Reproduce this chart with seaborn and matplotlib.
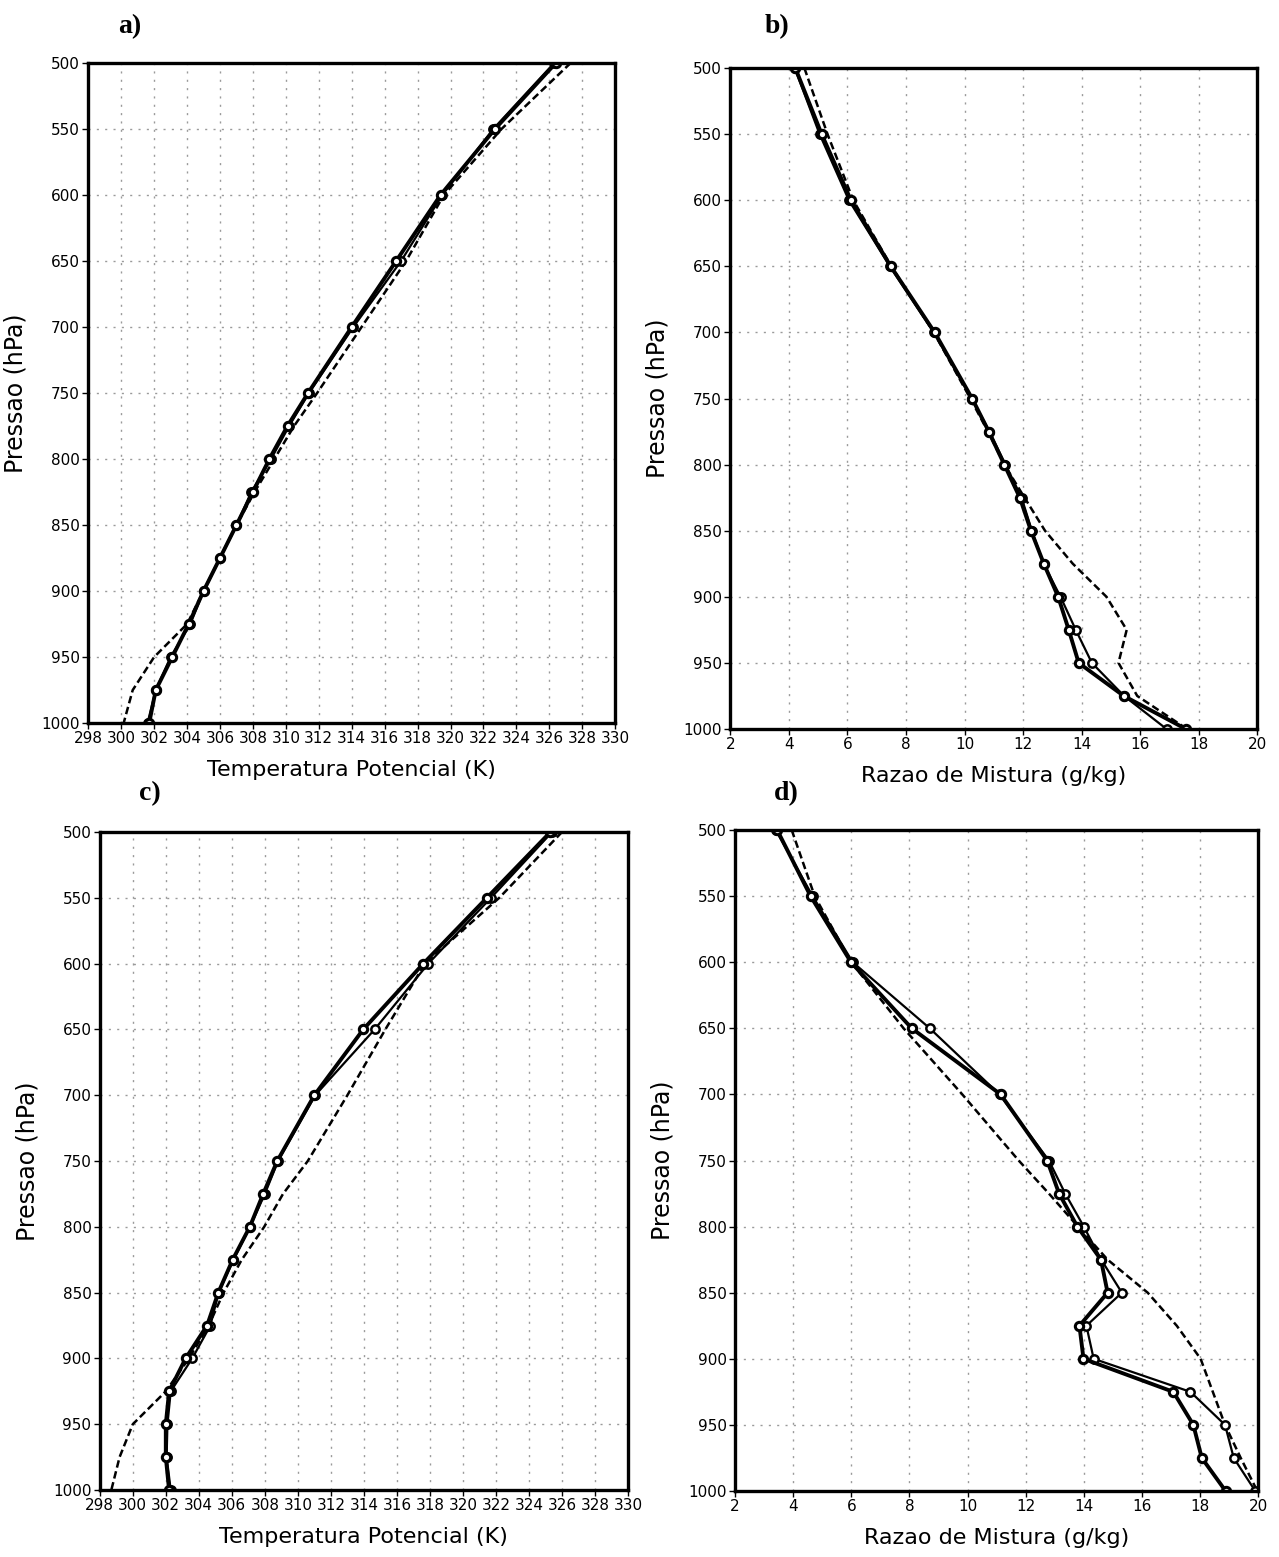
import matplotlib
matplotlib.use("Agg")
import matplotlib.pyplot as plt
import seaborn as sns

# Pressure levels (hPa)
levels = [500, 550, 600, 650, 700, 750, 775, 800, 825, 850, 875, 900, 925, 950, 975, 1000]

# a) potential temperature (K)
theta_a_1 = [326.4, 322.7, 319.4, 316.7, 314.0, 311.35, 310.1, 309.0, 308.0, 307.0, 306.0, 305.0, 304.1, 303.1, 302.1, 301.7]
theta_a_2 = [326.3, 322.6, 319.5, 317.0, 314.1, 311.4, 310.2, 309.1, 307.9, 307.0, 306.0, 305.0, 304.2, 303.0, 302.1, 301.6]
theta_a_3 = [327.3, 323.1, 319.6, 317.3, 314.6, 311.9, 310.5, 309.3, 308.1, 307.0, 306.0, 305.0, 304.0, 302.0, 300.7, 300.15]

# b) mixing ratio (g/kg)
q_b_1 = [4.22, 5.12, 6.12, 7.48, 8.98, 10.26, 10.83, 11.36, 11.89, 12.27, 12.71, 13.2, 13.56, 13.9, 15.44, 17.56]
q_b_2 = [4.2, 5.05, 6.05, 7.45, 8.95, 10.25, 10.85, 11.4, 11.95, 12.3, 12.7, 13.28, 13.8, 14.35, 15.45, 16.9]
q_b_3 = [4.53, 5.32, 6.2, 7.5, 8.95, 10.2, 10.8, 11.36, 12.05, 12.75, 13.7, 14.85, 15.54, 15.26, 15.9, 17.6]

# c) potential temperature (K)
theta_c_1 = [325.3, 321.45, 317.6, 313.96, 311.0, 308.75, 307.9, 307.09, 306.05, 305.18, 304.5, 303.2, 302.2, 302.0, 302.0, 302.2]
theta_c_2 = [325.4, 321.7, 317.9, 314.65, 311.05, 308.8, 308.0, 307.1, 306.1, 305.2, 304.7, 303.6, 302.3, 302.1, 302.05, 302.3]
theta_c_3 = [326.0, 322.2, 317.7, 315.3, 313.0, 310.6, 309.1, 307.96, 306.6, 305.5, 304.6, 303.4, 302.0, 300.0, 299.2, 298.7]

# d) mixing ratio (g/kg)
q_d_1 = [3.45, 4.6, 5.99, 8.08, 11.14, 12.74, 13.15, 13.78, 14.59, 14.82, 13.85, 13.99, 17.08, 17.77, 18.06, 18.88]
q_d_2 = [3.4, 4.67, 6.05, 8.7, 11.1, 12.8, 13.36, 14.0, 14.6, 15.31, 14.09, 14.34, 17.67, 18.86, 19.16, 19.9]
q_d_3 = [3.95, 4.74, 6.0, 7.8, 9.82, 11.76, 12.8, 13.8, 14.82, 16.2, 17.2, 18.02, 18.44, 18.86, 19.4, 19.97]

theta_ticks = list(range(298, 331, 2))
q_ticks = list(range(2, 21, 2))
p_ticks = list(range(500, 1001, 50))

sns.set_style("white")
plt.rcParams["font.family"] = ["DejaVu Sans"]
plt.rcParams["text.color"] = "black"
plt.rcParams["axes.labelcolor"] = "black"
plt.rcParams["xtick.color"] = "black"
plt.rcParams["ytick.color"] = "black"

fig = plt.figure(figsize=(12.79, 15.57), dpi=100)

panels = [
    ("a)", [0.069, 0.5356, 0.412, 0.424], (theta_a_1, theta_a_2, theta_a_3), theta_ticks,
     "Temperatura Potencial (K)", (0.092, 0.983)),
    ("b)", [0.571, 0.5318, 0.412, 0.4245], (q_b_1, q_b_2, q_b_3), q_ticks,
     "Razao de Mistura (g/kg)", (0.598, 0.983)),
    ("c)", [0.078, 0.0430, 0.413, 0.4226], (theta_c_1, theta_c_2, theta_c_3), theta_ticks,
     "Temperatura Potencial (K)", (0.109, 0.490)),
    ("d)", [0.5747, 0.0424, 0.409, 0.4245], (q_d_1, q_d_2, q_d_3), q_ticks,
     "Razao de Mistura (g/kg)", (0.605, 0.490)),
]

tick_font = ["Liberation Sans Narrow", "DejaVu Sans"]

for label, rect, (s1, s2, s3), xticks, xlabel, lab_pos in panels:
    ax = fig.add_axes(rect)
    # dashed profile without markers
    sns.lineplot(x=s3, y=levels, sort=False, estimator=None, ax=ax,
                 color="black", linewidth=1.8, linestyle=(0, (3, 1.5)))
    # thin solid profile with open circles
    sns.lineplot(x=s2, y=levels, sort=False, estimator=None, ax=ax,
                 color="black", linewidth=1.6, marker="o", markersize=6,
                 markerfacecolor="white", markeredgecolor="black", markeredgewidth=1.8)
    # thick solid profile with open circles
    sns.lineplot(x=s1, y=levels, sort=False, estimator=None, ax=ax,
                 color="black", linewidth=2.8, marker="o", markersize=6,
                 markerfacecolor="white", markeredgecolor="black", markeredgewidth=2.2)

    ax.set_xlim(xticks[0], xticks[-1])
    ax.set_ylim(1000, 500)
    ax.set_xticks(xticks)
    ax.set_yticks(p_ticks)
    ax.set_xticklabels([str(t) for t in xticks], family=tick_font, fontsize=11)
    ax.set_yticklabels([str(t) for t in p_ticks], family=tick_font, fontsize=11)
    ax.grid(True, color="#9a9a9a", linestyle=(0, (1.5, 4.5)), linewidth=1.0)
    ax.tick_params(axis="both", direction="out", length=4, width=1, color="black", pad=2,
                   left=True, bottom=True)
    for sp in ax.spines.values():
        sp.set_visible(True)
        sp.set_color("black")
        sp.set_linewidth(2.4)
    ax.set_xlabel(xlabel, fontsize=16, labelpad=10)
    ax.set_ylabel("Pressao (hPa)", fontsize=17, labelpad=10)
    fig.text(lab_pos[0], lab_pos[1], label, family=["Liberation Serif", "DejaVu Serif"],
             fontweight="bold", fontsize=20, ha="left", va="center")

fig.savefig("out.png", dpi=100, facecolor="white")
